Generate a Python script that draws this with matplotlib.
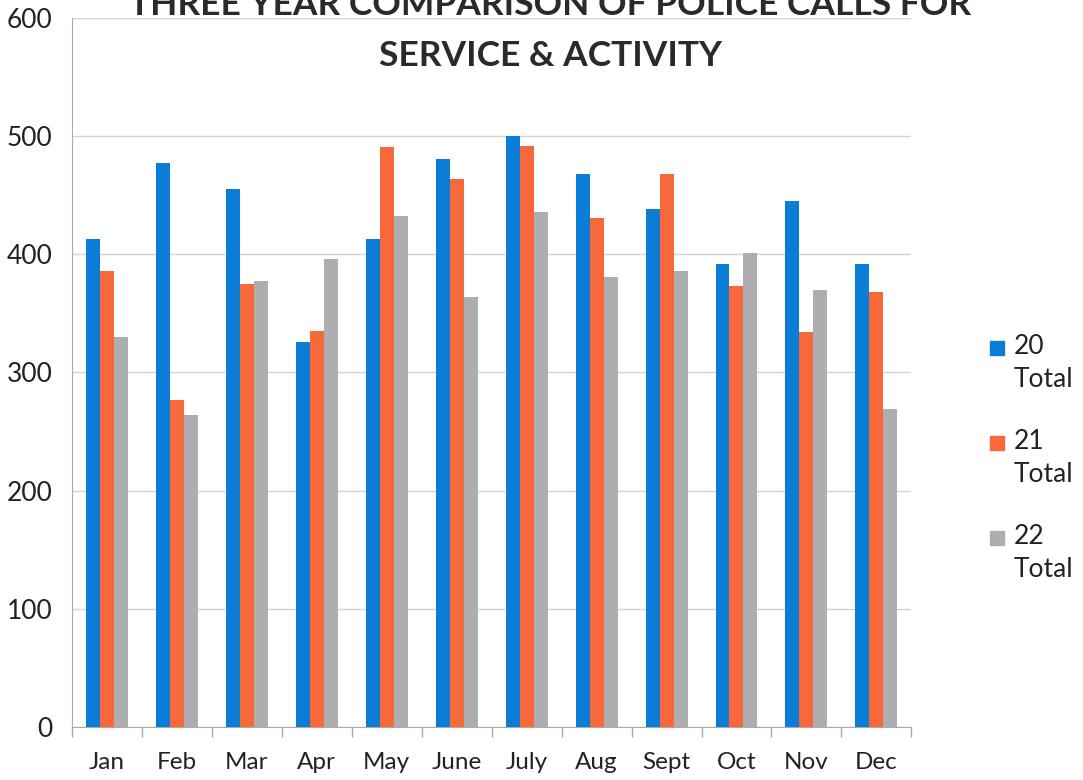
import numpy as np
import matplotlib.pyplot as plt
from matplotlib.patches import Rectangle
from matplotlib.ticker import FixedLocator, NullFormatter

plt.rcParams["font.family"] = ["Lato", "DejaVu Sans"]

months = ["Jan", "Feb", "Mar", "Apr", "May", "June", "July", "Aug", "Sept", "Oct", "Nov", "Dec"]
total_20 = [413, 477, 455, 326, 413, 481, 500, 468, 438, 392, 445, 392]
total_21 = [386, 277, 375, 335, 491, 464, 492, 431, 468, 373, 334, 368]
total_22 = [330, 264, 377, 396, 432, 364, 436, 381, 386, 401, 370, 269]
series_names = ["20", "21", "22"]
colors = ["#0b7dd6", "#f7683a", "#adadb2"]

fig = plt.figure(figsize=(10.83, 7.8), dpi=100)
ax = fig.add_axes([0.0665, 0.068, 0.775, 0.909])

x = np.arange(len(months))
w = 0.2
for i, vals in enumerate([total_20, total_21, total_22]):
    ax.bar(x + (i - 1) * w, vals, width=w, color=colors[i], zorder=3)

ax.set_xlim(-0.5, len(months) - 0.5)
ax.set_ylim(0, 600)
ax.set_yticks(range(0, 601, 100))
ax.yaxis.grid(True, color="#d4d4d4", linewidth=1.0, zorder=0)
ax.tick_params(axis="y", length=0, pad=14, labelsize=19, labelcolor="#222222")

# excel style: tick marks between categories, labels at the centres
ax.set_xticks(x)
ax.set_xticklabels(months)
ax.xaxis.set_minor_locator(FixedLocator(np.arange(-0.5, len(months), 1.0)))
ax.xaxis.set_minor_formatter(NullFormatter())
ax.tick_params(axis="x", which="major", length=0, pad=18, labelsize=17.5, labelcolor="#222222")
ax.tick_params(axis="x", which="minor", length=7, width=1, color="#aaaaaa")

for s in ["top", "right"]:
    ax.spines[s].set_visible(False)
ax.spines["left"].set_color("#aaaaaa")
ax.spines["bottom"].set_color("#aaaaaa")

# title runs off the top edge, as in the scanned original
fig.text(0.508, 1 - 15 / 780, "THREE YEAR COMPARISON OF POLICE CALLS FOR",
         ha="center", va="baseline", fontsize=25.5, fontweight="bold", color="#2a2a2a")
fig.text(0.508, 1 - 66 / 780, "SERVICE & ACTIVITY",
         ha="center", va="baseline", fontsize=25.5, fontweight="bold", color="#2a2a2a")

# legend: square next to the first line of a two-line label
for i, name in enumerate(series_names):
    yc = 1 - (348 + 95 * i) / 780
    fig.patches.append(Rectangle((990 / 1083, yc - 7 / 780), 14 / 1083, 14 / 780,
                                 transform=fig.transFigure, color=colors[i]))
    fig.text(1014 / 1083, yc + 14 / 780, name + "\nTotal", ha="left", va="top",
             fontsize=19, color="#222222", linespacing=1.4)

fig.savefig("out.png", dpi=100)
